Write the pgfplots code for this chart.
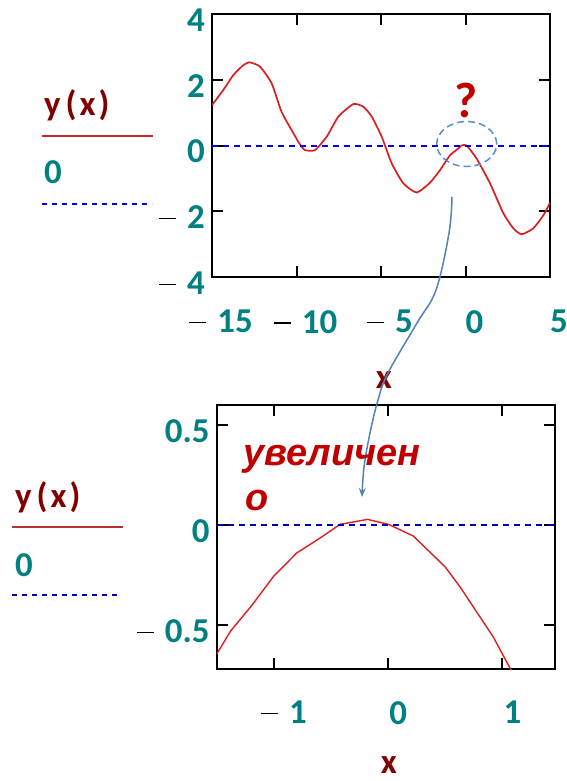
\documentclass[border=0pt]{standalone}
\usepackage{fontspec}
\setmainfont{Carlito}
\newfontfamily\arialf{Liberation Sans}
\usepackage{pgfplots}
\pgfplotsset{compat=1.18}
\usetikzlibrary{arrows.meta}
\definecolor{tealc}{RGB}{0,128,128}
\definecolor{maroonc}{RGB}{128,0,0}
\definecolor{curvered}{RGB}{220,30,30}
\definecolor{legred}{RGB}{205,40,40}
\definecolor{legred2}{RGB}{180,50,50}
\definecolor{zeroblue}{RGB}{0,0,235}
\definecolor{zeroblue2}{RGB}{0,0,175}
\definecolor{arrowblue}{RGB}{79,129,189}
\definecolor{ellblue}{RGB}{90,140,205}
\definecolor{annred}{RGB}{192,0,0}
\newcommand\tf{\fontsize{35}{40}\selectfont}
\newcommand\mn{{\color{black}\rule[0.27em]{17bp}{1.3bp}}\hspace{11bp}}
\newcommand\yx{y\kern5bp(\kern3bp x\kern3bp)}

\pgfplotstableread{
x y
-15 1.23
-14.33 1.69
-13.74 2.14
-13.2 2.42
-12.79 2.53
-12.16 2.40
-11.47 1.89
-10.88 1.02
-10.19 0.38
-9.79 0.03
-9.5 -0.14
-8.91 -0.14
-8.21 0.27
-7.52 0.88
-6.64 1.26
-6.05 1.18
-5.55 0.88
-4.96 0.27
-4.37 -0.54
-3.68 -1.15
-2.89 -1.43
-2.10 -1.13
-1.51 -0.75
-0.92 -0.30
-0.5 -0.12
-0.23 0.0
0.07 0.0
0.66 -0.40
1.45 -1.15
2.24 -2.06
2.83 -2.52
3.32 -2.70
4.01 -2.52
4.61 -2.12
5 -1.74
}\topdata

\pgfplotstableread{
x y
-1.5 -0.645
-1.378 -0.53
-1.19 -0.40
-1.0 -0.255
-0.80 -0.14
-0.59 -0.063
-0.42 0.0035
-0.18 0.028
0.005 0.003
0.22 -0.055
0.50 -0.21
0.63 -0.31
0.92 -0.56
1.08 -0.73
}\botdata

\pgfplotsset{myax/.style={
  scale only axis,
  axis line style={line width=2bp},
  every tick/.style={black, line width=2bp},
  major tick length=11bp,
  tick align=inside,
  /pgf/number format/assume math mode=true,
  ticklabel style={font=\tf\bfseries, text=tealc, inner sep=0pt},
  yticklabel style={xshift=-7bp, yshift=-6bp},
  every axis x label/.style={at={(axis description cs:0.5,0)}, anchor=center, font=\tf\bfseries, text=maroonc},
}}

\begin{document}
\begin{tikzpicture}
% top axis
\begin{axis}[myax, at={(212bp,-277bp)}, anchor=south west,
  width=338bp, height=263bp,
  xmin=-15, xmax=5, ymin=-4, ymax=4,
  xtick={-15,-10,-5,0,5}, xticklabels={\mn15,\mn10,\mn5,0,5},
  ytick={-4,-2,0,2,4}, yticklabels={\mn4,\mn2,0,2,4},
  xticklabel style={xshift=9bp, yshift=-33bp},
  xlabel={x}, xlabel style={yshift=-103bp, xshift=3bp}]
\addplot[curvered, line width=1.7bp, smooth, tension=0.35] table[x=x,y=y]{\topdata};
\addplot[zeroblue, line width=2bp, dash pattern=on 6bp off 5bp] coordinates {(-15,0) (5,0)};
\end{axis}
% bottom axis
\begin{axis}[myax, at={(216.7bp,-669bp)}, anchor=south west,
  width=338.3bp, height=264bp,
  xmin=-1.5, xmax=1.46, ymin=-0.72, ymax=0.6,
  xtick={-1,0,1}, xticklabels={\mn1,0,1},
  ytick={-0.5,0,0.5}, yticklabels={\mn0.5,0,0.5},
  xticklabel style={xshift=10bp, yshift=-32bp},
  xlabel={x}, xlabel style={yshift=-96bp, xshift=3bp}]
\addplot[curvered, line width=1.4bp] table[x=x,y=y]{\botdata};
\addplot[zeroblue2, line width=2bp, dash pattern=on 6bp off 5bp] coordinates {(-1.5,0) (1.46,0)};
\end{axis}
% legends
\node[anchor=base west, inner sep=0pt, text=maroonc, font=\tf\bfseries] at (44bp,-115bp) {\yx};
\draw[legred, line width=1.5bp] (42bp,-136bp) -- (153bp,-136bp);
\node[anchor=base west, inner sep=0pt, text=tealc, font=\tf\bfseries] at (44bp,-183bp) {0};
\draw[zeroblue, line width=1.5bp, dash pattern=on 5bp off 5bp] (42bp,-204bp) -- (152bp,-204bp);
\node[anchor=base west, inner sep=0pt, text=maroonc, font=\tf\bfseries] at (15bp,-507bp) {\yx};
\draw[legred2, line width=1.5bp] (12bp,-527bp) -- (123bp,-527bp);
\node[anchor=base west, inner sep=0pt, text=tealc, font=\tf\bfseries] at (15bp,-576bp) {0};
\draw[zeroblue2, line width=1.5bp, dash pattern=on 5bp off 5bp] (12bp,-595bp) -- (121bp,-595bp);
% annotations
\node[anchor=base, inner sep=0pt, text=annred, font=\fontsize{50}{52}\selectfont\bfseries] at (466bp,-117bp) {?};
\draw[ellblue, line width=1.5bp, dash pattern=on 7bp off 4bp] (466.7bp,-144bp) ellipse [x radius=30bp, y radius=22.5bp];
\draw[arrowblue, line width=1.5bp, -{Stealth[length=9bp,width=7bp]}] plot[smooth, tension=0.6] coordinates {(452bp,-197bp) (449bp,-233bp) (436bp,-290bp) (417bp,-323bp) (388bp,-373bp) (378bp,-400bp) (370bp,-433bp) (364bp,-467bp) (362bp,-497bp)};
\node[anchor=base west, inner sep=0pt, text=annred, font=\arialf\fontsize{38}{40}\selectfont\bfseries\itshape] at (243bp,-465bp) {увеличен};
\node[anchor=base west, inner sep=0pt, text=annred, font=\arialf\fontsize{38}{40}\selectfont\bfseries\itshape] at (245bp,-510bp) {о};
\pgfresetboundingbox
\path[use as bounding box] (0,0) rectangle (567bp,-781bp);
\end{tikzpicture}
\end{document}
